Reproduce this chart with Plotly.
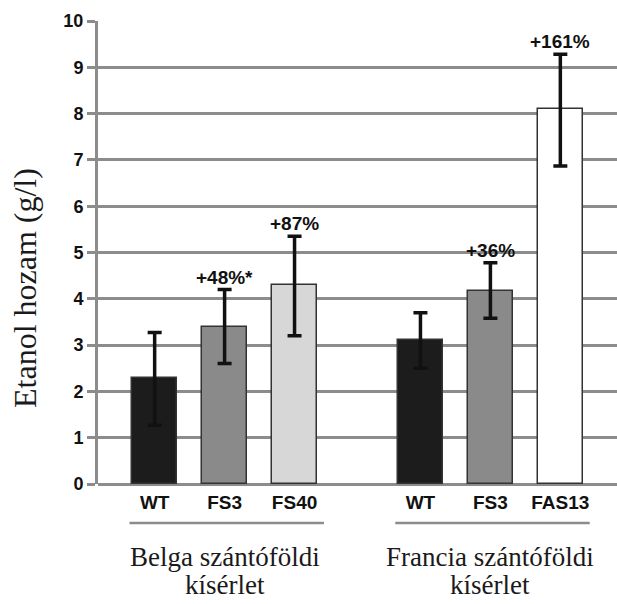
import plotly.graph_objects as go

# Data
labels = ["WT", "FS3", "FS40", "WT", "FS3", "FAS13"]
positions = [0, 1, 2, 3.8, 4.8, 5.8]
values = [2.3, 3.4, 4.3, 3.1, 4.17, 8.1]
err_plus = [0.97, 0.8, 1.05, 0.6, 0.61, 1.18]
err_minus = [1.03, 0.8, 1.1, 0.6, 0.59, 1.23]
pct_labels = ["", "+48%*", "+87%", "", "+36%", "+161%"]
colors = ["#1c1c1c", "#8a8a8a", "#d7d7d7", "#1c1c1c", "#8a8a8a", "#ffffff"]
groups = [("Belga szántóföldi", "kísérlet", [0, 1, 2]),
          ("Francia szántóföldi", "kísérlet", [3, 4, 5])]
y_title = "Etanol hozam (g/l)"

grid_col = "#8c8c8c"
sans = "Liberation Sans, Arial, sans-serif"
serif = "Liberation Serif, Times New Roman, serif"

fig = go.Figure()
fig.add_trace(go.Bar(
    x=positions, y=values, width=0.64,
    marker=dict(color=colors, line=dict(color="#333333", width=1.5)),
    error_y=dict(type="data", array=err_plus, arrayminus=err_minus,
                 color="#111111", thickness=3.5, width=7, visible=True),
    showlegend=False,
))

for p, v, e, t in zip(positions, values, err_plus, pct_labels):
    if t:
        fig.add_annotation(x=p, y=v + e, text=t, showarrow=False,
                           xanchor="center", yanchor="bottom", yshift=0,
                           font=dict(family=sans, size=19, color="#111111", weight="bold"))

top_px, bot_px, L, W, H = 21, 484, 98, 617, 604
def py2paper(py):
    return (bot_px - py) / (bot_px - top_px)
def px2paper(px):
    return (px - L) / (W - L)

for l1, l2, idx in groups:
    xs = [positions[i] for i in idx]
    cx = (xs[0] + xs[-1]) / 2
    fig.add_shape(type="line", xref="x", yref="paper",
                  x0=xs[0] - 0.36, x1=xs[-1] + 0.42,
                  y0=py2paper(523), y1=py2paper(523),
                  line=dict(color="#8c8c8c", width=2.5))
    fig.add_annotation(x=cx, xref="x", y=py2paper(557), yref="paper", text=l1,
                       showarrow=False, xanchor="center", yanchor="middle",
                       font=dict(family=serif, size=27, color="#1a1a1a"))
    fig.add_annotation(x=cx, xref="x", y=py2paper(585), yref="paper", text=l2,
                       showarrow=False, xanchor="center", yanchor="middle",
                       font=dict(family=serif, size=27, color="#1a1a1a"))

fig.add_annotation(x=px2paper(25), xref="paper", y=py2paper(288), yref="paper",
                   text=y_title, textangle=-90, showarrow=False,
                   xanchor="center", yanchor="middle",
                   font=dict(family=serif, size=32, color="#1a1a1a"))

fig.update_layout(
    width=W, height=H,
    margin=dict(l=L, r=0, t=top_px, b=H - bot_px),
    paper_bgcolor="white", plot_bgcolor="white",
    bargap=0,
)
fig.update_xaxes(
    range=[-0.81, 6.61], tickvals=positions, ticktext=labels,
    tickfont=dict(family=sans, size=19, color="#111111", weight="bold"),
    showgrid=False, zeroline=False, showline=False, ticks="",
    ticklabelstandoff=5,
)
fig.update_yaxes(
    range=[0, 10], dtick=1, tick0=0,
    showgrid=True, gridcolor=grid_col, gridwidth=3,
    zeroline=True, zerolinecolor=grid_col, zerolinewidth=3,
    showline=True, linecolor=grid_col, linewidth=3,
    ticks="outside", ticklen=8, tickcolor=grid_col, tickwidth=2.5,
    tickfont=dict(family=sans, size=18, color="#111111", weight="bold"),
)

fig.write_html("out.html", config={"displayModeBar": False},
               post_script="document.body.style.margin='0';document.body.style.overflow='hidden';")
